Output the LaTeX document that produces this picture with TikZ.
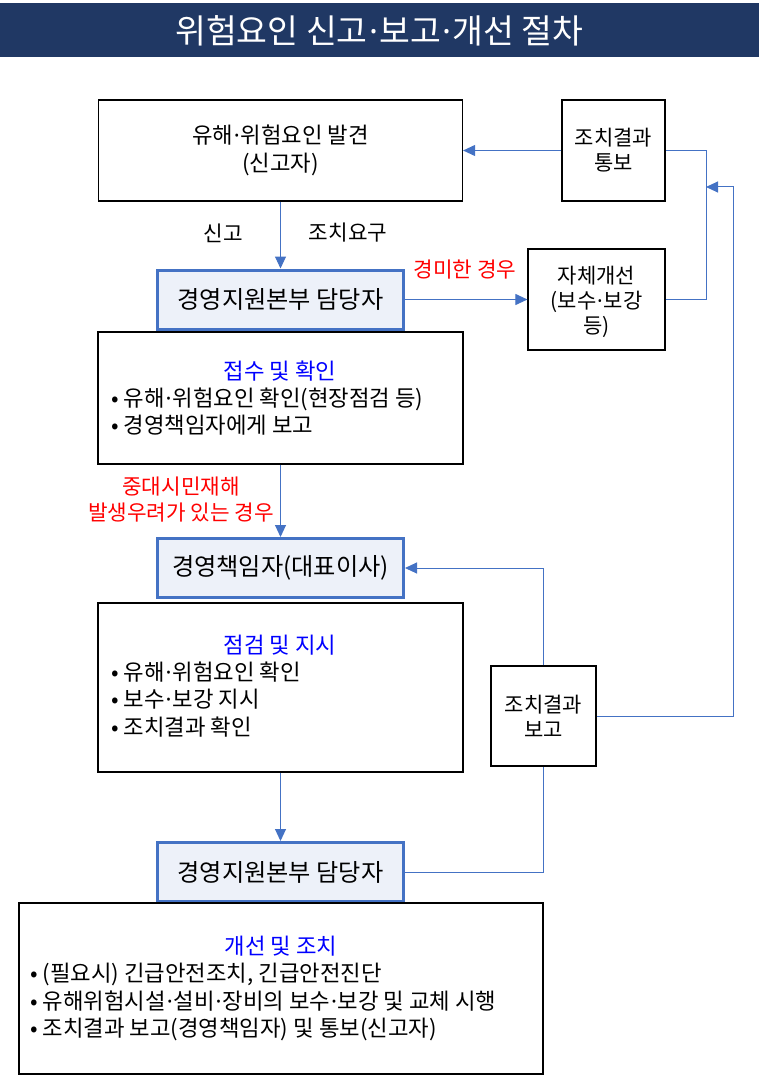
\documentclass[tikz,border=0pt]{standalone}
\usepackage{fontspec}
\setmainfont{Noto Sans CJK KR}
\newfontfamily\latinfont{Noto Sans}
\newcommand\mdt{\hbox to .35em{\hss\latinfont ·\hss}}
\usetikzlibrary{arrows.meta}
\definecolor{navy}{HTML}{203864}
\definecolor{lineblue}{HTML}{4472C4}
\definecolor{boxfill}{HTML}{EDF1F9}
\definecolor{headblue}{HTML}{0000FF}
\definecolor{redtxt}{HTML}{FF0000}
\begin{document}
\begin{tikzpicture}[x=1pt,y=-1pt,
  plainbox/.style={draw=black, line width=1.2pt, fill=white, inner sep=0pt, align=center, font=\fontsize{21}{25}\selectfont},
  keybox/.style={draw=lineblue, line width=3pt, fill=boxfill, minimum width=246pt, minimum height=59pt, inner sep=0pt, font=\fontsize{24.2}{26}\selectfont},
  conn/.style={draw=lineblue, line width=1pt},
  arr/.style={conn, -{Triangle[length=12pt,width=11pt]}},
  lbl/.style={inner sep=0pt, align=center, font=\fontsize{21.3}{26}\selectfont},
  redlbl/.style={lbl, text=redtxt},
  head/.style={inner sep=0pt, text=headblue, font=\fontsize{22.3}{27}\selectfont},
  item/.style={inner sep=0pt, anchor=base west, font=\fontsize{22.3}{27}\selectfont},
]
\useasboundingbox (0,0) rectangle (759,1075);
\fill[navy] (0,3) rectangle (759,57);
\node[text=white, font=\fontsize{33.5}{34}\selectfont, inner sep=0pt] (title) at (379.5,31) {위험요인 신고\mdt 보고\mdt 개선 절차};

\node[plainbox, minimum width=364pt, minimum height=101pt, font=\fontsize{22.3}{28}\selectfont] (n1) at (280.5,150.5) {유해\mdt 위험요인 발견\\(신고자)};
\node[lbl] (l1) at (223,233) {신고};
\node[lbl] (l2) at (348,233) {조치요구};
\node[keybox] (n2) at (280.5,299.5) {경영지원본부 담당자};

\node[plainbox, minimum width=365pt, minimum height=132pt] (n3) at (280.5,398) {};
\node[head] (h3) at (280,371) {접수 및 확인};
\node[item] (i31) at (111,406.5) {• 유해\mdt 위험요인 확인(현장점검 등)};
\node[item] (i32) at (111,433.5) {• 경영책임자에게 보고};

\node[redlbl] (l3) at (465,270) {경미한 경우};
\node[plainbox, minimum width=137pt, minimum height=101pt] (self) at (596.5,299.5) {};
\node[lbl, font=\fontsize{21}{25}\selectfont] (selft) at (596.5,302) {자체개선\\(보수\mdt 보강\\등)};
\node[plainbox, minimum width=103pt, minimum height=101pt] (tongbo) at (613.5,150.5) {조치결과\\통보};

\node[redlbl] (l4) at (181,500) {중대시민재해\\발생우려가 있는 경우};
\node[keybox] (n4) at (280.5,568) {경영책임자(대표이사)};

\node[plainbox, minimum width=365pt, minimum height=169pt] (n5) at (280.5,687.5) {};
\node[head] (h5) at (280,645) {점검 및 지시};
\node[item] (i51) at (111,680.5) {• 유해\mdt 위험요인 확인};
\node[item] (i52) at (111,707.5) {• 보수\mdt 보강 지시};
\node[item] (i53) at (111,735.5) {• 조치결과 확인};

\node[plainbox, minimum width=105pt, minimum height=100pt] (bogo) at (543.5,716) {조치결과\\보고};
\node[keybox] (n6) at (280.5,872) {경영지원본부 담당자};

\node[plainbox, minimum width=524pt, minimum height=171pt] (n7) at (281,988.5) {};
\node[head] (h7) at (281,946) {개선 및 조치};
\node[item] (i71) at (30,981.5) {• (필요시) 긴급안전조치, 긴급안전진단};
\node[item] (i72) at (30,1009.5) {• 유해위험시설\mdt 설비\mdt 장비의 보수\mdt 보강 및 교체 시행};
\node[item] (i73) at (30,1036.5) {• 조치결과 보고(경영책임자) 및 통보(신고자)};

\coordinate (r1) at (706,150.5);
\coordinate (r2) at (706,299.5);
\coordinate (r3) at (733,716);
\coordinate (r4) at (733,187);
\coordinate (r5) at (706,187);

\draw[arr] (n1.south) -- (n2.north);
\draw[arr] (n2.east) -- (self.west);
\draw[arr] (tongbo.west) -- (n1.east);
\draw[conn] (self.east) -- (r2) -- (r1) -- (tongbo.east);
\draw[arr] (bogo.east) -- (r3) -- (r4) -- (r5);
\draw[arr] (n3.south) -- (n4.north);
\draw[arr] (bogo.north) |- (n4.east);
\draw[conn] (n6.east) -| (bogo.south);
\draw[arr] (n5.south) -- (n6.north);
\end{tikzpicture}
\end{document}
